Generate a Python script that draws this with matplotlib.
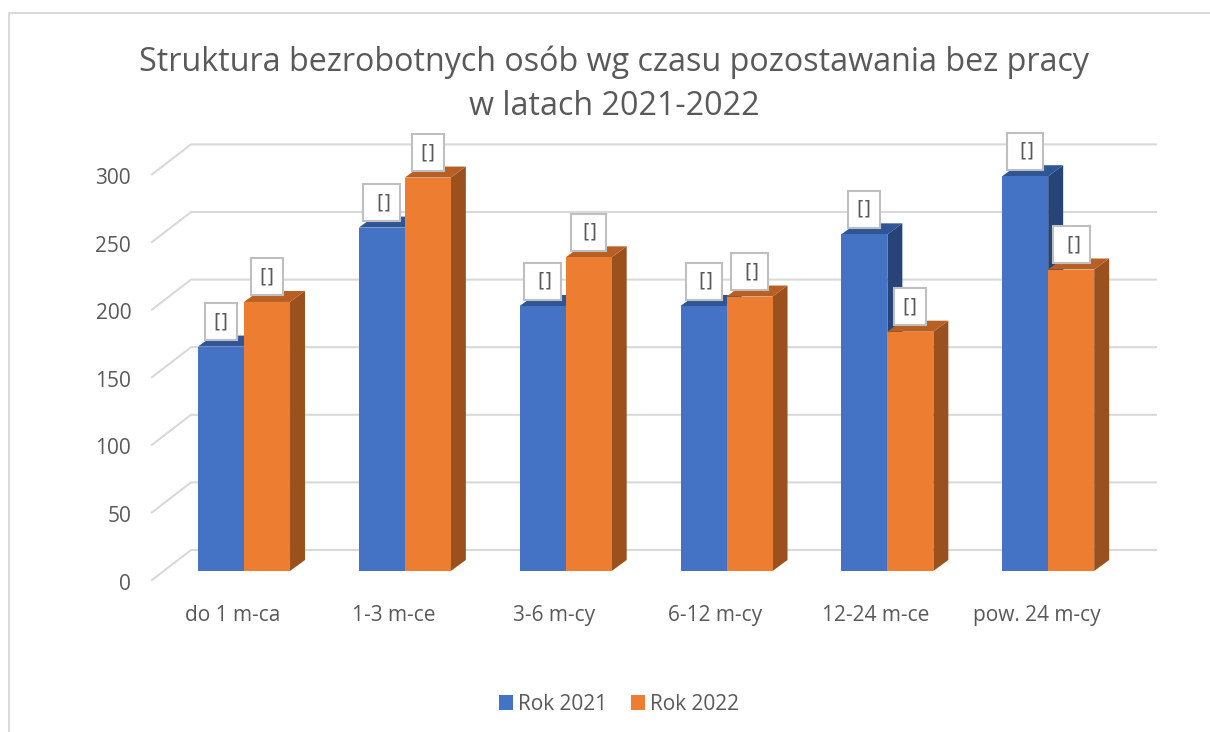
import matplotlib
matplotlib.use("Agg")
import matplotlib.pyplot as plt
from matplotlib.patches import Polygon, Rectangle
from matplotlib.transforms import Affine2D

categories = ["do 1 m-ca", "1-3 m-ce", "3-6 m-cy", "6-12 m-cy", "12-24 m-ce", "pow. 24 m-cy"]
rok_2021 = [166, 254, 196, 196, 249, 292]
rok_2022 = [199, 291, 232, 203, 177, 223]
y_ticks = [0, 50, 100, 150, 200, 250, 300]
title = "Struktura bezrobotnych osób wg czasu pozostawania bez pracy\nw latach 2021-2022"
box_widths = [[32, 37, 37, 36, 32, 36], [32, 32, 35, 37, 32, 37]]
series = [
    ("Rok 2021", rok_2021, "#4472C4", "#2F5597", "#264478"),
    ("Rok 2022", rok_2022, "#ED7D31", "#B85F24", "#9A511E"),
]

W, H = 1210, 732
plt.rcParams["font.family"] = ["Open Sans", "DejaVu Sans"]
fig = plt.figure(figsize=(W / 100, H / 100), dpi=100)
L, R, B, T = 152, 1117, 580, 174.4
ax = fig.add_axes([L / W, 1 - B / H, (R - L) / W, (B - T) / H])
ax.set_xlim(-0.5, 5.5)
ax.set_ylim(0, 300)
ax.patch.set_alpha(0)
for s in ax.spines.values():
    s.set_visible(False)

# chart frame: only the top and left edges fall inside the crop
fig.add_artist(plt.Line2D([9 / W, 9 / W, 1], [0, 1 - 12.5 / H, 1 - 12.5 / H],
                          transform=fig.transFigure, color="#D9D9D9", lw=1.4,
                          solid_joinstyle="miter"))

# pseudo-3D projection, in pixels
DEPTH_X, DEPTH_Y = 39, 30        # whole floor depth
BAR_DX, BAR_DY = 11.6, 9         # front of the bars
SIDE_DX, SIDE_DY = 15, 11        # depth of one bar
BAR_W = 46 / 160.83

front = ax.transData + Affine2D().translate(BAR_DX, BAR_DY)

# walls
for v in y_ticks:
    p0 = ax.transData.transform((-0.5, v))
    p1 = ax.transData.transform((5.5, v))
    xs = [p0[0], p0[0] + DEPTH_X, p1[0] + DEPTH_X]
    ys = [p0[1], p0[1] + DEPTH_Y, p1[1] + DEPTH_Y]
    ax.add_line(plt.Line2D(xs, ys, transform=Affine2D(), color="#D9D9D9", lw=1.5,
                           clip_on=False, zorder=1, solid_joinstyle="miter"))

handles = []
for k, (name, vals, c_front, c_top, c_side) in enumerate(series):
    xpos = [i - BAR_W + k * BAR_W for i in range(len(vals))]
    bars = ax.bar(xpos, vals, width=BAR_W, align="edge", color=c_front, label=name,
                  transform=front, clip_on=False, zorder=3 + k * 2, linewidth=0)
    handles.append(bars)
    for x, v in zip(xpos, vals):
        (x0, y0), (x1, y1) = front.transform([(x, 0), (x + BAR_W, v)])
        top = [(x0, y1), (x1, y1), (x1 + SIDE_DX, y1 + SIDE_DY), (x0 + SIDE_DX, y1 + SIDE_DY)]
        side = [(x1, y0), (x1, y1), (x1 + SIDE_DX, y1 + SIDE_DY), (x1 + SIDE_DX, y0 + SIDE_DY)]
        z = 2 + k * 2
        ax.add_patch(Polygon(side, closed=True, transform=Affine2D(), fc=c_side, ec="none", clip_on=False, zorder=z))
        ax.add_patch(Polygon(top, closed=True, transform=Affine2D(), fc=c_top, ec="none", clip_on=False, zorder=z))

# data labels (the reference shows an unresolved placeholder "[]")
for k, (name, vals, *_ ) in enumerate(series):
    for i, v in enumerate(vals):
        cx, cy = front.transform((i - BAR_W + k * BAR_W + BAR_W / 2, v))
        cy += 25
        w = box_widths[k][i]
        ax.add_patch(Rectangle((cx - w / 2, cy - 18.5), w, 37, transform=Affine2D(), fc="white",
                               ec="#BFBFBF", lw=1.5, clip_on=False, zorder=10))
        ax.text(cx + (w - 32) / 2, cy, "[]", transform=Affine2D(), ha="center", va="center",
                fontsize=14, family="DejaVu Sans", color="#595959", clip_on=False, zorder=11)

ax.set_xticks(range(len(categories)), categories)
ax.set_yticks(y_ticks)
ax.tick_params(axis="both", length=0, labelsize=15, labelcolor="#595959")
ax.tick_params(axis="x", pad=18)
ax.tick_params(axis="y", pad=15)
for lbl in ax.get_yticklabels():
    lbl.set_transform(lbl.get_transform() + Affine2D().translate(0, -1.5))

fig.text(614 / W, 1 - 84.5 / H, title, ha="center", va="center", fontsize=23.2, color="#595959", linespacing=1.44)
fig.legend(handles=handles, loc="center", bbox_to_anchor=(619 / W, 1 - 704 / H), ncol=2, frameon=False,
           fontsize=15, labelcolor="#595959", handlelength=0.7, handleheight=0.7, handletextpad=0.25,
           columnspacing=1.1)
fig.savefig("out.png", dpi=100)
